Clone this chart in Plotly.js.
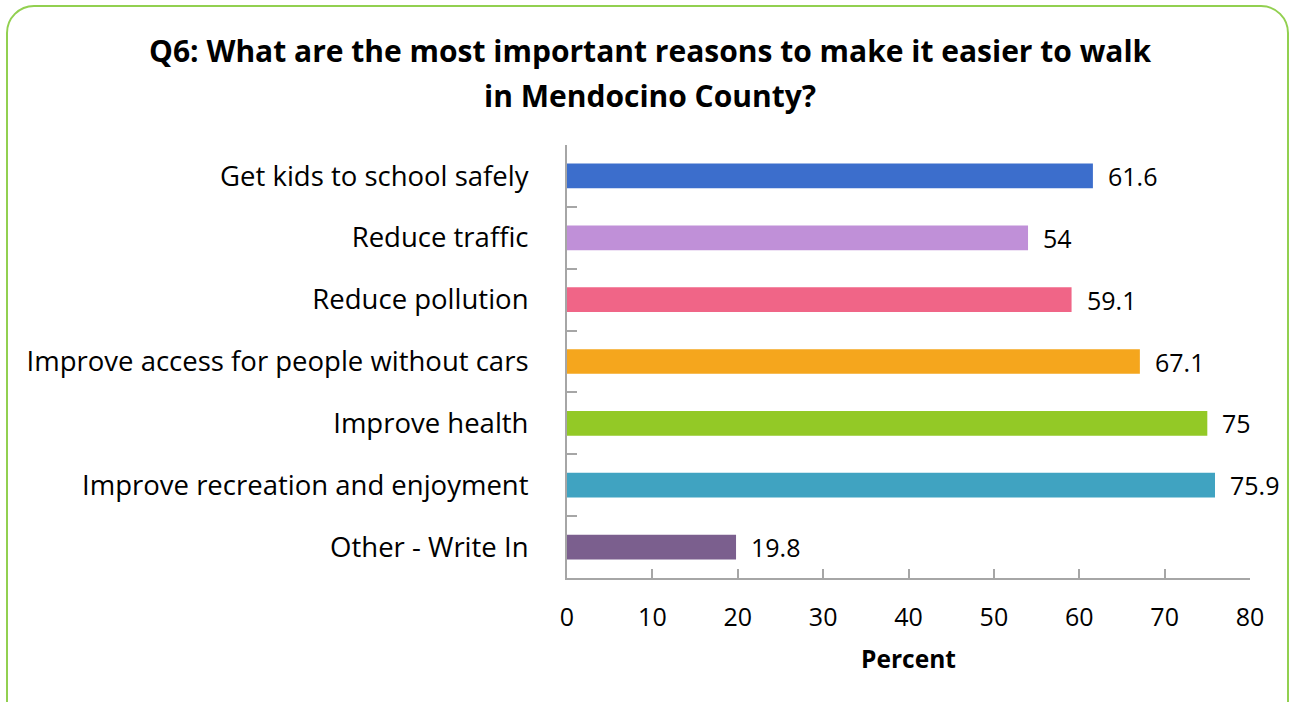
<!DOCTYPE html>
<html>
<head>
<meta charset="utf-8">
<script src="https://cdn.plot.ly/plotly-3.0.1.min.js"></script>
<style>
  html, body { margin:0; padding:0; background:#fff; overflow:hidden; }
  #frame { position:absolute; left:6px; top:5px; width:1283px; height:730px; border:2px solid #92d050; border-radius:28px; box-sizing:border-box; }
  #chart { position:absolute; left:0; top:0; width:1294px; height:702px; }
</style>
</head>
<body>
<div id="frame"></div>
<div id="chart"></div>
<script>
const categories = ["Get kids to school safely", "Reduce traffic", "Reduce pollution", "Improve access for people without cars", "Improve health", "Improve recreation and enjoyment", "Other - Write In"];
const values = [61.6, 54, 59.1, 67.1, 75, 75.9, 19.8];
const barColors = ["#3c6ecc", "#c090d8", "#f06587", "#f5a61d", "#93c926", "#40a3c1", "#7b5f8e"];
const xTickVals = [0, 10, 20, 30, 40, 50, 60, 70, 80];
const titleLines = ["Q6: What are the most important reasons to make it easier to walk", "in Mendocino County?"];

const font = "'Open Sans', 'Noto Sans', sans-serif";

const W = 1294, H = 702;
const M = { l: 567, r: 44, t: 145, b: 124 };
const plotW = W - M.l - M.r, plotH = H - M.t - M.b;
// helpers to convert page pixels to paper coords for title placement
const px2x = px => (px - M.l) / plotW;
const py2y = py => (H - M.b - py) / plotH;

const trace = {
  type: "bar",
  orientation: "h",
  y: categories,
  x: values,
  marker: { color: barColors },
  hoverinfo: "none"
};

const annotations = categories.map((c, i) => ({
  x: values[i], y: c, xref: "x", yref: "y",
  text: String(values[i]), showarrow: false,
  xanchor: "left", yanchor: "middle", xshift: 13, yshift: 0,
  font: { family: font, size: 25, color: "#000" }
}));

const titleY = [50, 95];
titleLines.forEach((t, i) => {
  annotations.push({
    x: px2x(650), y: py2y(titleY[i]), xref: "paper", yref: "paper",
    text: "<b>" + t + "</b>", showarrow: false,
    xanchor: "center", yanchor: "middle",
    font: { family: font, size: 30, color: "#000" }
  });
});

const layout = {
  width: W, height: H,
  paper_bgcolor: "rgba(0,0,0,0)", plot_bgcolor: "rgba(0,0,0,0)",
  margin: M,
  bargap: 0.6,
  showlegend: false,
  xaxis: {
    range: [0, 80], tickvals: xTickVals, ticktext: xTickVals.map(String),
    showgrid: false, zeroline: false,
    showline: true, linecolor: "#a6a6a6", linewidth: 2,
    ticks: "inside", ticklen: 9, tickcolor: "#a6a6a6", tickwidth: 2,
    tickfont: { family: font, size: 25, color: "#000" },
    ticklabelstandoff: 16,
    title: { text: "<b>Percent</b>", font: { family: font, size: 24.5, color: "#000" }, standoff: 19 },
    fixedrange: true
  },
  yaxis: {
    type: "category", autorange: "reversed",
    showgrid: false, zeroline: false,
    showline: true, linecolor: "#a6a6a6", linewidth: 2,
    ticks: "inside", tickson: "boundaries", ticklen: 10, tickcolor: "#a6a6a6", tickwidth: 2,
    tickfont: { family: font, size: 27.5, color: "#000" },
    ticklabelstandoff: 31,
    fixedrange: true
  },
  annotations: annotations
};

Plotly.newPlot("chart", [trace], layout, { displayModeBar: false, staticPlot: true });
</script>
</body>
</html>
